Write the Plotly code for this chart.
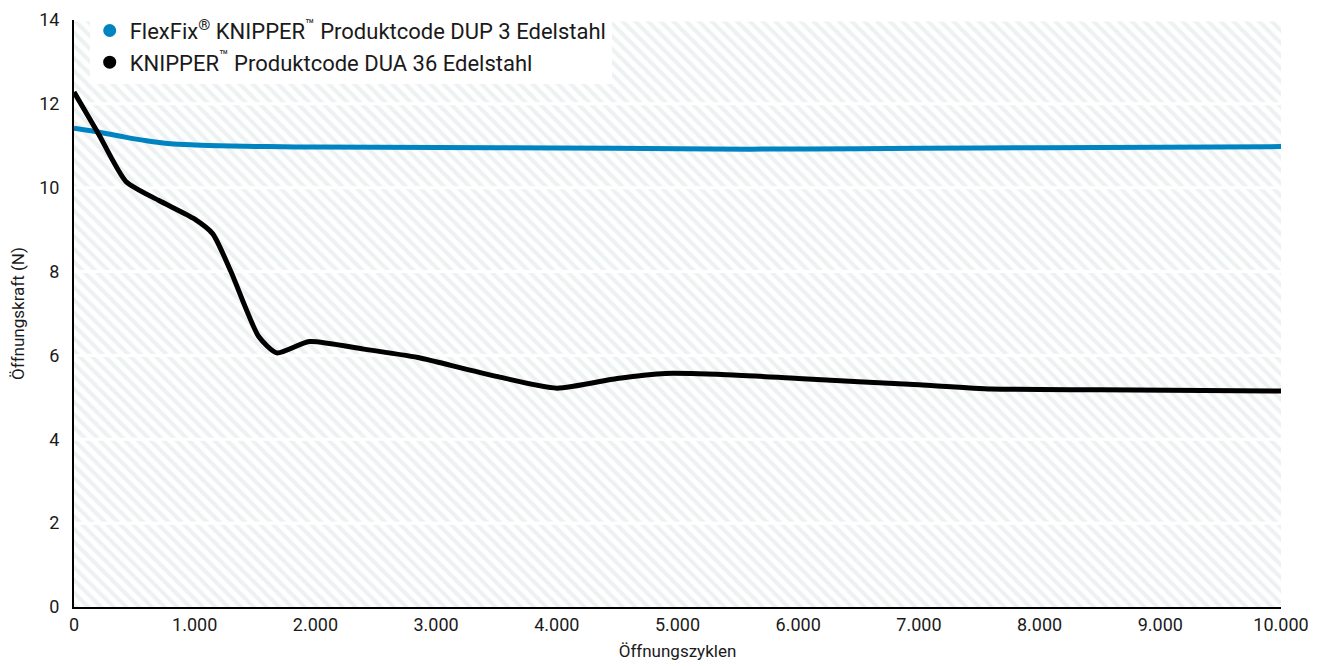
import plotly.graph_objects as go

# ---- data ----
x_blue = [0, 200, 400, 600, 800, 1000, 1200, 1600, 2000, 3000, 4000, 5000, 5600, 6500, 7500, 8500, 10000]
y_blue = [11.42, 11.33, 11.22, 11.12, 11.05, 11.02, 11.0, 10.98, 10.97, 10.96, 10.95, 10.93, 10.92, 10.93, 10.95, 10.96, 10.98]

x_black = [0, 200, 430, 700, 1000, 1150, 1300, 1530, 1680, 1950, 2400, 2850, 3000, 3500, 4000, 4500, 4900, 5500, 6000, 7000, 7600, 8500, 10000]
y_black = [12.28, 11.3, 10.15, 9.7, 9.25, 8.9, 8.0, 6.45, 6.06, 6.33, 6.15, 5.95, 5.85, 5.5, 5.22, 5.45, 5.57, 5.53, 5.45, 5.3, 5.2, 5.18, 5.15]

series_names = ["FlexFix<sup>®</sup> KNIPPER<sup>™</sup> Produktcode DUP 3 Edelstahl",
                "KNIPPER<sup>™</sup> Produktcode DUA 36 Edelstahl"]
series_colors = ["#0083c1", "#000000"]

x_range = [0, 10000]
y_range = [0, 14]
x_ticks = list(range(0, 10001, 1000))
y_ticks = list(range(0, 15, 2))

FONT = "Roboto"

fig = go.Figure()

# hatched plot background
fig.add_trace(go.Scatter(
    x=[x_range[0], x_range[1], x_range[1], x_range[0], x_range[0]],
    y=[y_range[0], y_range[0], y_range[1], y_range[1], y_range[0]],
    mode="lines", fill="toself", line=dict(width=0),
    fillcolor="white",
    fillpattern=dict(shape="\\", fgcolor="#d9e3e4", bgcolor="white", size=9, solidity=0.45),
    hoverinfo="skip", showlegend=False))

# white gridlines above hatch
for v in y_ticks[1:]:
    fig.add_trace(go.Scatter(x=x_range, y=[v, v], mode="lines",
                             line=dict(color="white", width=3),
                             hoverinfo="skip", showlegend=False))

fig.add_trace(go.Scatter(x=x_blue, y=y_blue, mode="lines",
                         line=dict(color=series_colors[0], width=5, shape="spline", smoothing=0.8),
                         showlegend=False, name=series_names[0]))
fig.add_trace(go.Scatter(x=x_black, y=y_black, mode="lines",
                         line=dict(color=series_colors[1], width=5, shape="spline", smoothing=0.6),
                         showlegend=False, name=series_names[1]))

# legend entries with circle markers
for n, c in zip(series_names, series_colors):
    fig.add_trace(go.Scatter(x=[None], y=[None], mode="markers", name=n,
                             marker=dict(color=c, size=13, symbol="circle")))

fig.update_layout(
    width=1319, height=658,
    margin=dict(l=66, r=46, t=12, b=59, autoexpand=False),
    paper_bgcolor="white", plot_bgcolor="white",
    separators=",.",
    font=dict(family=FONT, size=18, color="#1a1a1a"),
    showlegend=True,
    legend=dict(x=0.013, y=1.0175, xanchor="left", yanchor="top",
                bgcolor="white", borderwidth=0,
                font=dict(family=FONT, size=22, color="#1a1a1a"),
                itemwidth=30, tracegroupgap=0,
                traceorder="normal"),
    xaxis=dict(range=x_range, tickvals=x_ticks, tickformat=",d",
               showgrid=False, zeroline=False, showline=True, automargin=False,
               linecolor="black", linewidth=2, ticks="",
               title=dict(text="Öffnungszyklen", font=dict(size=17), standoff=12),
               tickfont=dict(size=18)),
    yaxis=dict(range=y_range, tickvals=y_ticks, showgrid=False, zeroline=False,
               showline=True, linecolor="black", linewidth=2, ticks="", automargin=False,
               ticklabelstandoff=9,
               title=dict(text="Öffnungskraft (N)", font=dict(size=17), standoff=16),
               tickfont=dict(size=18)),
)

fig.write_html("out.html")
